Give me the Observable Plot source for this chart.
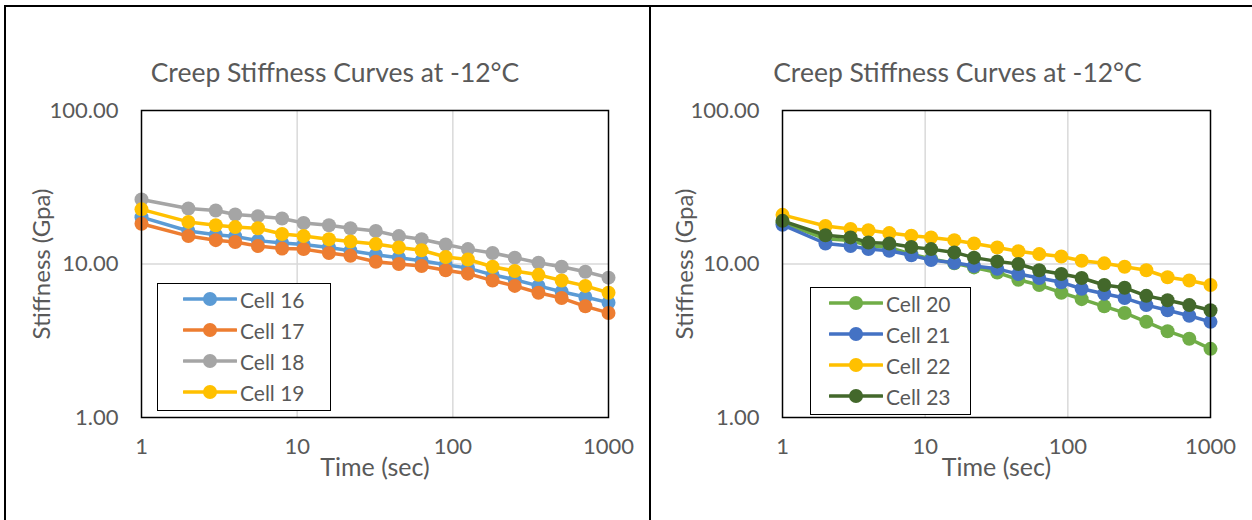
<!DOCTYPE html>
<html>
<head>
<meta charset="utf-8">
<script src="https://cdn.jsdelivr.net/npm/d3@7"></script>
<script src="https://cdn.jsdelivr.net/npm/@observablehq/plot@0.6"></script>
<style>
  html, body { margin: 0; padding: 0; background: #fff; }
  body { width: 1252px; height: 520px; position: relative; overflow: hidden; font-family: Lato, "Open Sans", sans-serif; }
  .panel { position: absolute; }
  .border { position: absolute; background: #000; }
  .legend { position: absolute; background: #fff; border: 1.5px solid #000; box-sizing: border-box; }
  .legend .row { position: absolute; left: 0; height: 24px; display: flex; align-items: center; }
  .legend .row span { font-size: 21px; color: #595959; margin-left: 3px; white-space: nowrap; }
</style>
</head>
<body>
<script>
// ---- data ----
const times = [1, 2, 3, 4, 5.6, 8, 11, 16, 22, 32, 45, 63, 90, 125, 180, 250, 355, 500, 710, 1000];

const cell16 = [20.2, 16.4, 15.5, 15.1, 14.2, 13.7, 13.4, 12.8, 12.2, 11.5, 11.0, 10.5, 9.9, 9.4, 8.5, 7.9, 7.2, 6.6, 6.1, 5.6];
const cell17 = [18.3, 15.2, 14.3, 13.9, 13.1, 12.6, 12.5, 11.8, 11.3, 10.35, 10.0, 9.7, 9.1, 8.65, 7.8, 7.2, 6.5, 6.0, 5.3, 4.8];
const cell18 = [26.3, 23.0, 22.3, 21.0, 20.5, 19.8, 18.5, 17.9, 17.1, 16.4, 15.2, 14.5, 13.4, 12.5, 11.8, 11.0, 10.2, 9.6, 8.9, 8.15];
const cell19 = [22.7, 18.8, 17.9, 17.4, 17.1, 15.7, 15.2, 14.5, 14.0, 13.5, 12.8, 12.3, 11.1, 10.7, 9.6, 9.0, 8.5, 7.8, 7.2, 6.5];

const cell20 = [18.6, 14.6, 14.2, 13.2, 12.8, 11.6, 10.8, 10.1, 9.5, 8.8, 7.9, 7.3, 6.5, 5.9, 5.3, 4.8, 4.2, 3.65, 3.26, 2.8];
const cell21 = [18.0, 13.6, 13.1, 12.5, 12.2, 11.4, 10.6, 10.2, 9.7, 9.3, 8.6, 8.1, 7.6, 6.9, 6.4, 6.0, 5.4, 5.0, 4.6, 4.2];
const cell22 = [20.9, 17.7, 16.9, 16.6, 15.9, 15.3, 14.9, 14.3, 13.6, 12.8, 12.1, 11.6, 11.2, 10.5, 10.1, 9.6, 9.1, 8.2, 7.8, 7.3];
const cell23 = [19.1, 15.4, 14.9, 13.8, 13.6, 12.9, 12.5, 11.9, 11.0, 10.4, 10.0, 9.1, 8.6, 8.1, 7.3, 7.0, 6.2, 5.8, 5.4, 5.0];

const leftNames = ["Cell 16", "Cell 17", "Cell 18", "Cell 19"];
const leftValues = [cell16, cell17, cell18, cell19];
const leftColors = ["#5B9BD5", "#ED7D31", "#A5A5A5", "#FFC000"];

const rightNames = ["Cell 20", "Cell 21", "Cell 22", "Cell 23"];
const rightValues = [cell20, cell21, cell22, cell23];
const rightColors = ["#70AD47", "#4472C4", "#FFC000", "#43682B"];

const xTicks = [1, 10, 100, 1000];
const yTicks = [1, 10, 100];
const titleText = "Creep Stiffness Curves at -12°C";
const xLabel = "Time (sec)";
const yLabel = "Stiffness (Gpa)";

function panel({left, width, marginLeft, marginRight, names, values, colors, titleDx, yLabelDx, legend}) {
  const seriesMarks = [];
  names.forEach((name, i) => {
    const rows = times.map((t, j) => ({t, v: values[i][j]}));
    seriesMarks.push(Plot.line(rows, {x: "t", y: "v", stroke: colors[i], strokeWidth: 3.5}));
    seriesMarks.push(Plot.dot(rows, {x: "t", y: "v", fill: colors[i], r: 7, stroke: "none"}));
  });
  const chart = Plot.plot({
    width, height: 520,
    marginLeft, marginRight, marginTop: 110, marginBottom: 103,
    style: {fontFamily: "Lato, 'Open Sans', sans-serif", fontSize: "22px", color: "#595959", background: "transparent", overflow: "visible"},
    x: {type: "log", domain: [1, 1000], label: null},
    y: {type: "log", domain: [1, 100], label: null},
    marks: [
      Plot.gridX([10, 100], {stroke: "#d9d9d9", strokeOpacity: 1, strokeWidth: 1.5}),
      Plot.gridY([10], {stroke: "#d9d9d9", strokeOpacity: 1, strokeWidth: 1.5}),
      Plot.axisX(xTicks, {tickSize: 0, tickPadding: 21, tickFormat: d => String(d), fill: "#595959", fontSize: 22, label: null}),
      Plot.axisY(yTicks, {tickSize: 0, tickPadding: 23, tickFormat: d => d.toFixed(2), fill: "#595959", fontSize: 22, label: null}),
      ...seriesMarks,
      Plot.frame({stroke: "#000", strokeWidth: 1.5}),
      Plot.text([titleText], {frameAnchor: "top", dy: -37, dx: titleDx, lineAnchor: "middle", fontSize: 26.5, fill: "#595959"}),
      Plot.text([xLabel], {frameAnchor: "bottom", dy: 50, lineAnchor: "middle", fontSize: 25, fill: "#595959"}),
      Plot.text([yLabel], {frameAnchor: "left", rotate: -90, dx: yLabelDx, textAnchor: "middle", lineAnchor: "middle", fontSize: 24, fill: "#595959"})
    ]
  });
  const div = document.createElement("div");
  div.className = "panel";
  div.style.left = left + "px";
  div.style.top = "0px";
  div.appendChild(chart);
  document.body.appendChild(div);

  // legend
  const lg = document.createElement("div");
  lg.className = "legend";
  lg.style.left = (left + legend.x) + "px";
  lg.style.top = legend.y + "px";
  lg.style.width = legend.w + "px";
  lg.style.height = legend.h + "px";
  names.forEach((name, i) => {
    const row = document.createElement("div");
    row.className = "row";
    row.style.top = (legend.rowTop + i * legend.rowStep - 12) + "px";
    row.style.left = legend.swLeft + "px";
    row.innerHTML = `<svg width="54" height="20"><line x1="1" y1="10" x2="53" y2="10" stroke="${colors[i]}" stroke-width="3.5" stroke-linecap="round"/><circle cx="27" cy="10" r="7" fill="${colors[i]}"/></svg><span>${name}</span>`;
    lg.appendChild(row);
  });
  document.body.appendChild(lg);
}

panel({left: 0, width: 650, marginLeft: 141, marginRight: 42, names: leftNames, values: leftValues, colors: leftColors,
  titleDx: -40, yLabelDx: -99,
  legend: {x: 157, y: 283, w: 174, h: 128, rowTop: 15, rowStep: 31, swLeft: 25}});
panel({left: 650, width: 602, marginLeft: 132, marginRight: 42, names: rightNames, values: rightValues, colors: rightColors,
  titleDx: -39, yLabelDx: -97,
  legend: {x: 160, y: 287, w: 161, h: 128, rowTop: 15, rowStep: 31, swLeft: 18}});

// panel borders
function border(l, t, w, h) {
  const b = document.createElement("div");
  b.className = "border";
  Object.assign(b.style, {left: l + "px", top: t + "px", width: w + "px", height: h + "px"});
  document.body.appendChild(b);
}
border(4, 5, 1248, 2);
border(4, 5, 2, 515);
border(649, 5, 2, 515);
</script>
</body>
</html>
